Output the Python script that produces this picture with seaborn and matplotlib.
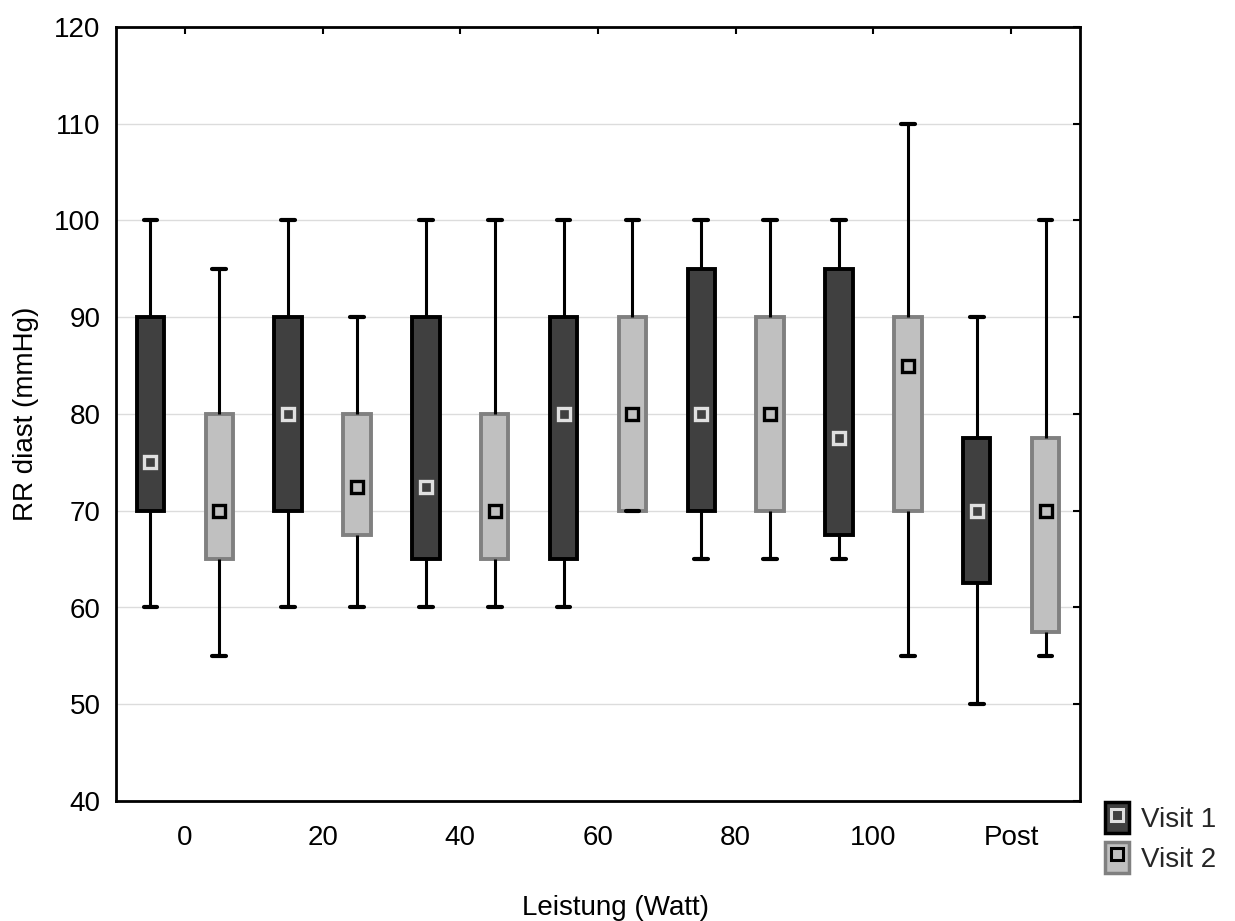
import numpy as np
import pandas as pd
import matplotlib
matplotlib.use("Agg")
import matplotlib.pyplot as plt
import matplotlib.colors as mcolors
import seaborn as sns
from matplotlib.patches import Patch
from matplotlib.lines import Line2D

# --- Data: five-number summaries (min, q1, median, q3, max) ---
stages = ["0", "20", "40", "60", "80", "100", "Post"]
visits = ["Visit 1", "Visit 2"]

visit1_stats = [
    [60, 70, 75, 90, 100],
    [60, 70, 80, 90, 100],
    [60, 65, 72.5, 90, 100],
    [60, 65, 80, 90, 100],
    [65, 70, 80, 95, 100],
    [65, 67.5, 77.5, 95, 100],
    [50, 62.5, 70, 77.5, 90],
]
visit2_stats = [
    [55, 65, 70, 80, 95],
    [60, 67.5, 72.5, 80, 90],
    [60, 65, 70, 80, 100],
    [70, 70, 80, 90, 100],
    [65, 70, 80, 90, 100],
    [55, 70, 85, 90, 110],
    [55, 57.5, 70, 77.5, 100],
]

# long table: 5 values per box reproduce min/quartiles/median/max exactly
rows = []
for visit, stats in zip(visits, [visit1_stats, visit2_stats]):
    for stage, vals in zip(stages, stats):
        for v in vals:
            rows.append({"Leistung": stage, "Visit": visit, "RR": v})
df = pd.DataFrame(rows)

fill = {"Visit 1": "#404040", "Visit 2": "#c0c0c0"}
edge = {"Visit 1": "#000000", "Visit 2": "#808080"}
mark_edge = {"Visit 1": "#e0e0e0", "Visit 2": "#000000"}

sns.set_theme(style="white")
plt.rcParams["font.family"] = ["Liberation Sans", "DejaVu Sans"]
FS = 20

fig = plt.figure(figsize=(12.35, 9.21), dpi=100)
ax = fig.add_axes([116 / 1235, 1 - 801 / 921, 964 / 1235, 774 / 921])

ax.yaxis.grid(True, color="#dcdcdc", linewidth=1)
ax.set_axisbelow(True)

sns.boxplot(
    data=df, x="Leistung", y="RR", hue="Visit",
    order=stages, hue_order=visits,
    palette=fill, width=1.0, gap=0.6, whis=(0, 100),
    linecolor="black", linewidth=2.2, fliersize=0,
    saturation=1,
    boxprops={"linewidth": 2.8},
    whiskerprops={"color": "black", "linewidth": 2.2},
    capprops={"color": "black", "linewidth": 3},
    medianprops={"visible": False},
    legend=False, ax=ax,
)
# lighter outline for the Visit 2 boxes
for p in ax.patches:
    if mcolors.to_hex(p.get_facecolor()) == fill["Visit 2"]:
        p.set_edgecolor(edge["Visit 2"])

# median squares
n_before = len(ax.lines)
sns.pointplot(
    data=df, x="Leistung", y="RR", hue="Visit",
    order=stages, hue_order=visits,
    estimator="median", errorbar=None, dodge=0.5,
    linestyle="none", markers="s", palette=fill,
    legend=False, ax=ax,
)
for line in ax.lines[n_before:]:
    c = mcolors.to_hex(line.get_markerfacecolor())
    visit = "Visit 1" if c == fill["Visit 1"] else "Visit 2"
    line.set_markersize(9)
    line.set_markeredgewidth(2.4)
    line.set_markeredgecolor(mark_edge[visit])
    line.set_markerfacecolor(fill[visit])
    line.set_zorder(5)

ax.set_xlim(-0.5, len(stages) - 0.5)
ax.set_ylim(40, 120)
ax.set_yticks(np.arange(40, 121, 10))
ax.set_xticks(range(len(stages)))
ax.set_xticklabels(stages)

for s in ax.spines.values():
    s.set_visible(True)
    s.set_color("black")
    s.set_linewidth(2)

ax.tick_params(axis="both", direction="in", length=5, width=1.5, color="black",
               labelsize=FS, colors="black", top=True, right=True)
ax.tick_params(axis="y", pad=11)
ax.tick_params(axis="x", pad=17)

ax.set_xlabel("Leistung (Watt)", fontsize=FS, color="black")
ax.xaxis.set_label_coords(0.518, -0.121)
ax.set_ylabel("RR diast (mmHg)", fontsize=FS, color="black")
ax.yaxis.set_label_coords(-0.08, 0.5)

handles = []
for visit in visits:
    handles.append((
        Patch(facecolor=fill[visit], edgecolor=edge[visit], linewidth=2.5),
        Line2D([], [], linestyle="none", marker="s", markersize=8,
               markerfacecolor=fill[visit], markeredgecolor=mark_edge[visit],
               markeredgewidth=2.2),
    ))
fig.legend(handles, visits, loc="lower left", bbox_to_anchor=(1105 / 1235, 1 - 873 / 921),
           frameon=False, fontsize=FS, handlelength=0.85, handleheight=1.35,
           handletextpad=0.45, labelspacing=0.3, borderaxespad=0, borderpad=0)

fig.savefig("out.png", dpi=100)
